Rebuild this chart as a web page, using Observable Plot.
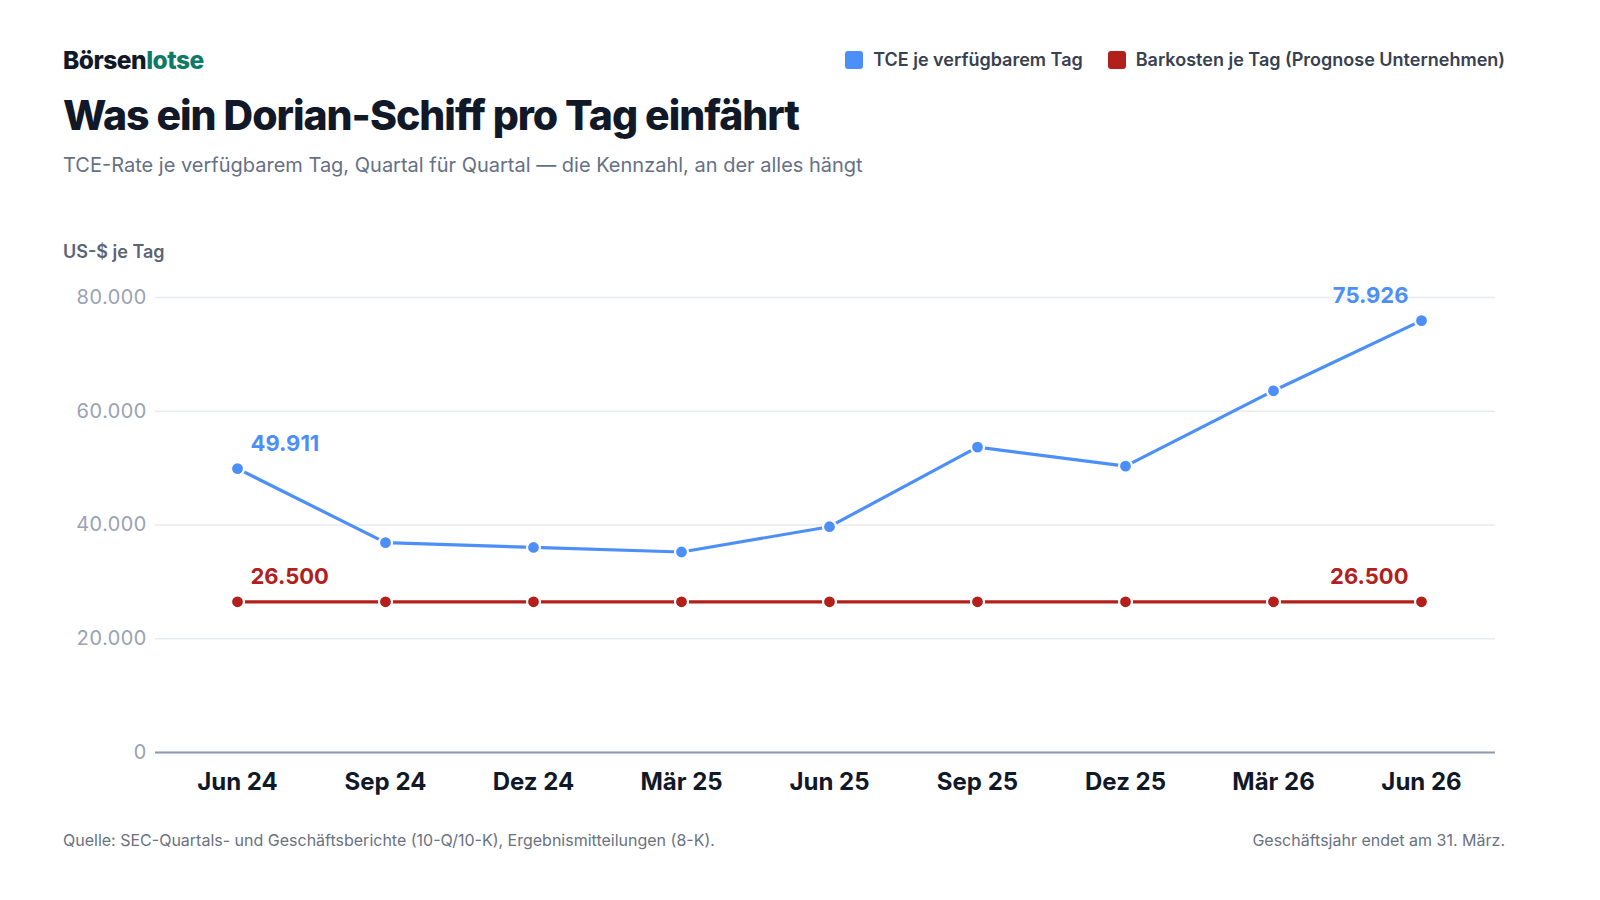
<!DOCTYPE html>
<html>
<head>
<meta charset="utf-8">
<script src="https://cdn.jsdelivr.net/npm/d3@7"></script>
<script src="https://cdn.jsdelivr.net/npm/@observablehq/plot@0.6"></script>
<style>
  html, body { margin: 0; padding: 0; background: #ffffff; }
  body { width: 1600px; height: 900px; position: relative; font-family: Inter, "Noto Sans", sans-serif; overflow: hidden; }
  .abs { position: absolute; white-space: nowrap; }
  #brand { left: 63px; top: 45px; font-size: 24.5px; font-weight: 800; color: #111827; letter-spacing: -0.02em; line-height: 30px; }
  #brand span { color: #0f7a67; }
  #title { left: 63px; top: 90px; font-size: 41px; font-weight: 800; color: #111827; letter-spacing: -0.025em; line-height: 50px; }
  #subtitle { left: 63px; top: 152px; font-size: 20px; font-weight: 400; color: #667085; line-height: 26px; }
  #ylabel { left: 63px; top: 241px; font-size: 18px; font-weight: 600; color: #5b6477; line-height: 22px; }
  #legend { right: 95px; top: 48px; display: flex; align-items: center; font-size: 18px; font-weight: 600; color: #374151; line-height: 24px; }
  #legend .sw { width: 18px; height: 18px; border-radius: 3px; margin-right: 10px; }
  #legend .item { display: flex; align-items: center; margin-left: 25px; }
  #chart { position: absolute; left: 0; top: 200px; }
  #source { left: 63px; top: 829px; font-size: 16px; color: #6b7280; line-height: 22px; }
  #note { right: 95px; top: 829px; font-size: 16px; color: #6b7280; line-height: 22px; }
</style>
</head>
<body>
<div id="brand" class="abs">Börsen<span>lotse</span></div>
<div id="title" class="abs">Was ein Dorian-Schiff pro Tag einfährt</div>
<div id="subtitle" class="abs">TCE-Rate je verfügbarem Tag, Quartal für Quartal — die Kennzahl, an der alles hängt</div>
<div id="legend" class="abs"></div>
<div id="ylabel" class="abs">US-$ je Tag</div>
<div id="chart"></div>
<div id="source" class="abs">Quelle: SEC-Quartals- und Geschäftsberichte (10-Q/10-K), Ergebnismitteilungen (8-K).</div>
<div id="note" class="abs">Geschäftsjahr endet am 31. März.</div>
<script>
const quarters = ["Jun 24", "Sep 24", "Dez 24", "Mär 25", "Jun 25", "Sep 25", "Dez 25", "Mär 26", "Jun 26"];
const tceValues = [49911, 36900, 36050, 35250, 39700, 53700, 50350, 63600, 75926];
const cashCostValues = [26500, 26500, 26500, 26500, 26500, 26500, 26500, 26500, 26500];
const yTicks = [0, 20000, 40000, 60000, 80000];
const seriesNames = ["TCE je verfügbarem Tag", "Barkosten je Tag (Prognose Unternehmen)"];
const seriesColors = ["#4d8ff8", "#b3201b"];

const de = d3.formatLocale({decimal: ",", thousands: ".", grouping: [3], currency: ["", " €"]});
const fmt = de.format(",.0f");

const data = [];
quarters.forEach((q, i) => {
  data.push({q, v: tceValues[i], s: seriesNames[0], i});
  data.push({q, v: cashCostValues[i], s: seriesNames[1], i});
});
const last = quarters.length - 1;
const endLabels = data.filter(d => d.i === 0 || d.i === last);

// legend
const leg = document.getElementById("legend");
seriesNames.forEach((n, k) => {
  const it = document.createElement("div");
  it.className = "item";
  it.innerHTML = `<div class="sw" style="background:${seriesColors[k]}"></div><div>${n}</div>`;
  leg.appendChild(it);
});

const W = 1600, H = 620;
const chart = Plot.plot({
  width: W,
  height: H,
  marginLeft: 155,
  marginRight: 105,
  marginTop: 97,
  marginBottom: 68,
  style: {fontFamily: "Inter, 'Noto Sans', sans-serif", background: "transparent", overflow: "visible"},
  x: {type: "point", domain: quarters, range: [237, 1421], padding: 0},
  y: {domain: [0, 80000]},
  color: {domain: seriesNames, range: seriesColors},
  marks: [
    Plot.gridY(yTicks, {stroke: "#e8ebf0", strokeOpacity: 1, strokeWidth: 1.5}),
    Plot.axisY(yTicks, {tickSize: 0, tickPadding: 9, tickFormat: fmt, fontSize: 20, fill: "#9aa2b3", label: null}),
    Plot.axisX({tickSize: 0, tickPadding: 20, fontSize: 24, fontWeight: 700, fill: "#111827", label: null}),
    Plot.ruleY([0], {stroke: "#8f99ab", strokeWidth: 2}),
    Plot.line(data, {x: "q", y: "v", z: "s", stroke: "s", strokeWidth: 3.2}),
    Plot.dot(data, {x: "q", y: "v", fill: "s", stroke: "#ffffff", strokeWidth: 2.2, r: 6.5}),
    Plot.text(endLabels.filter(d => d.i === 0), {x: "q", y: "v", text: d => fmt(d.v), fill: "s", textAnchor: "start", dx: 13, dy: -25, fontSize: 22, fontWeight: 700}),
    Plot.text(endLabels.filter(d => d.i === last), {x: "q", y: "v", text: d => fmt(d.v), fill: "s", textAnchor: "end", dx: -13, dy: -25, fontSize: 22, fontWeight: 700})
  ]
});
document.getElementById("chart").appendChild(chart);
</script>
</body>
</html>
